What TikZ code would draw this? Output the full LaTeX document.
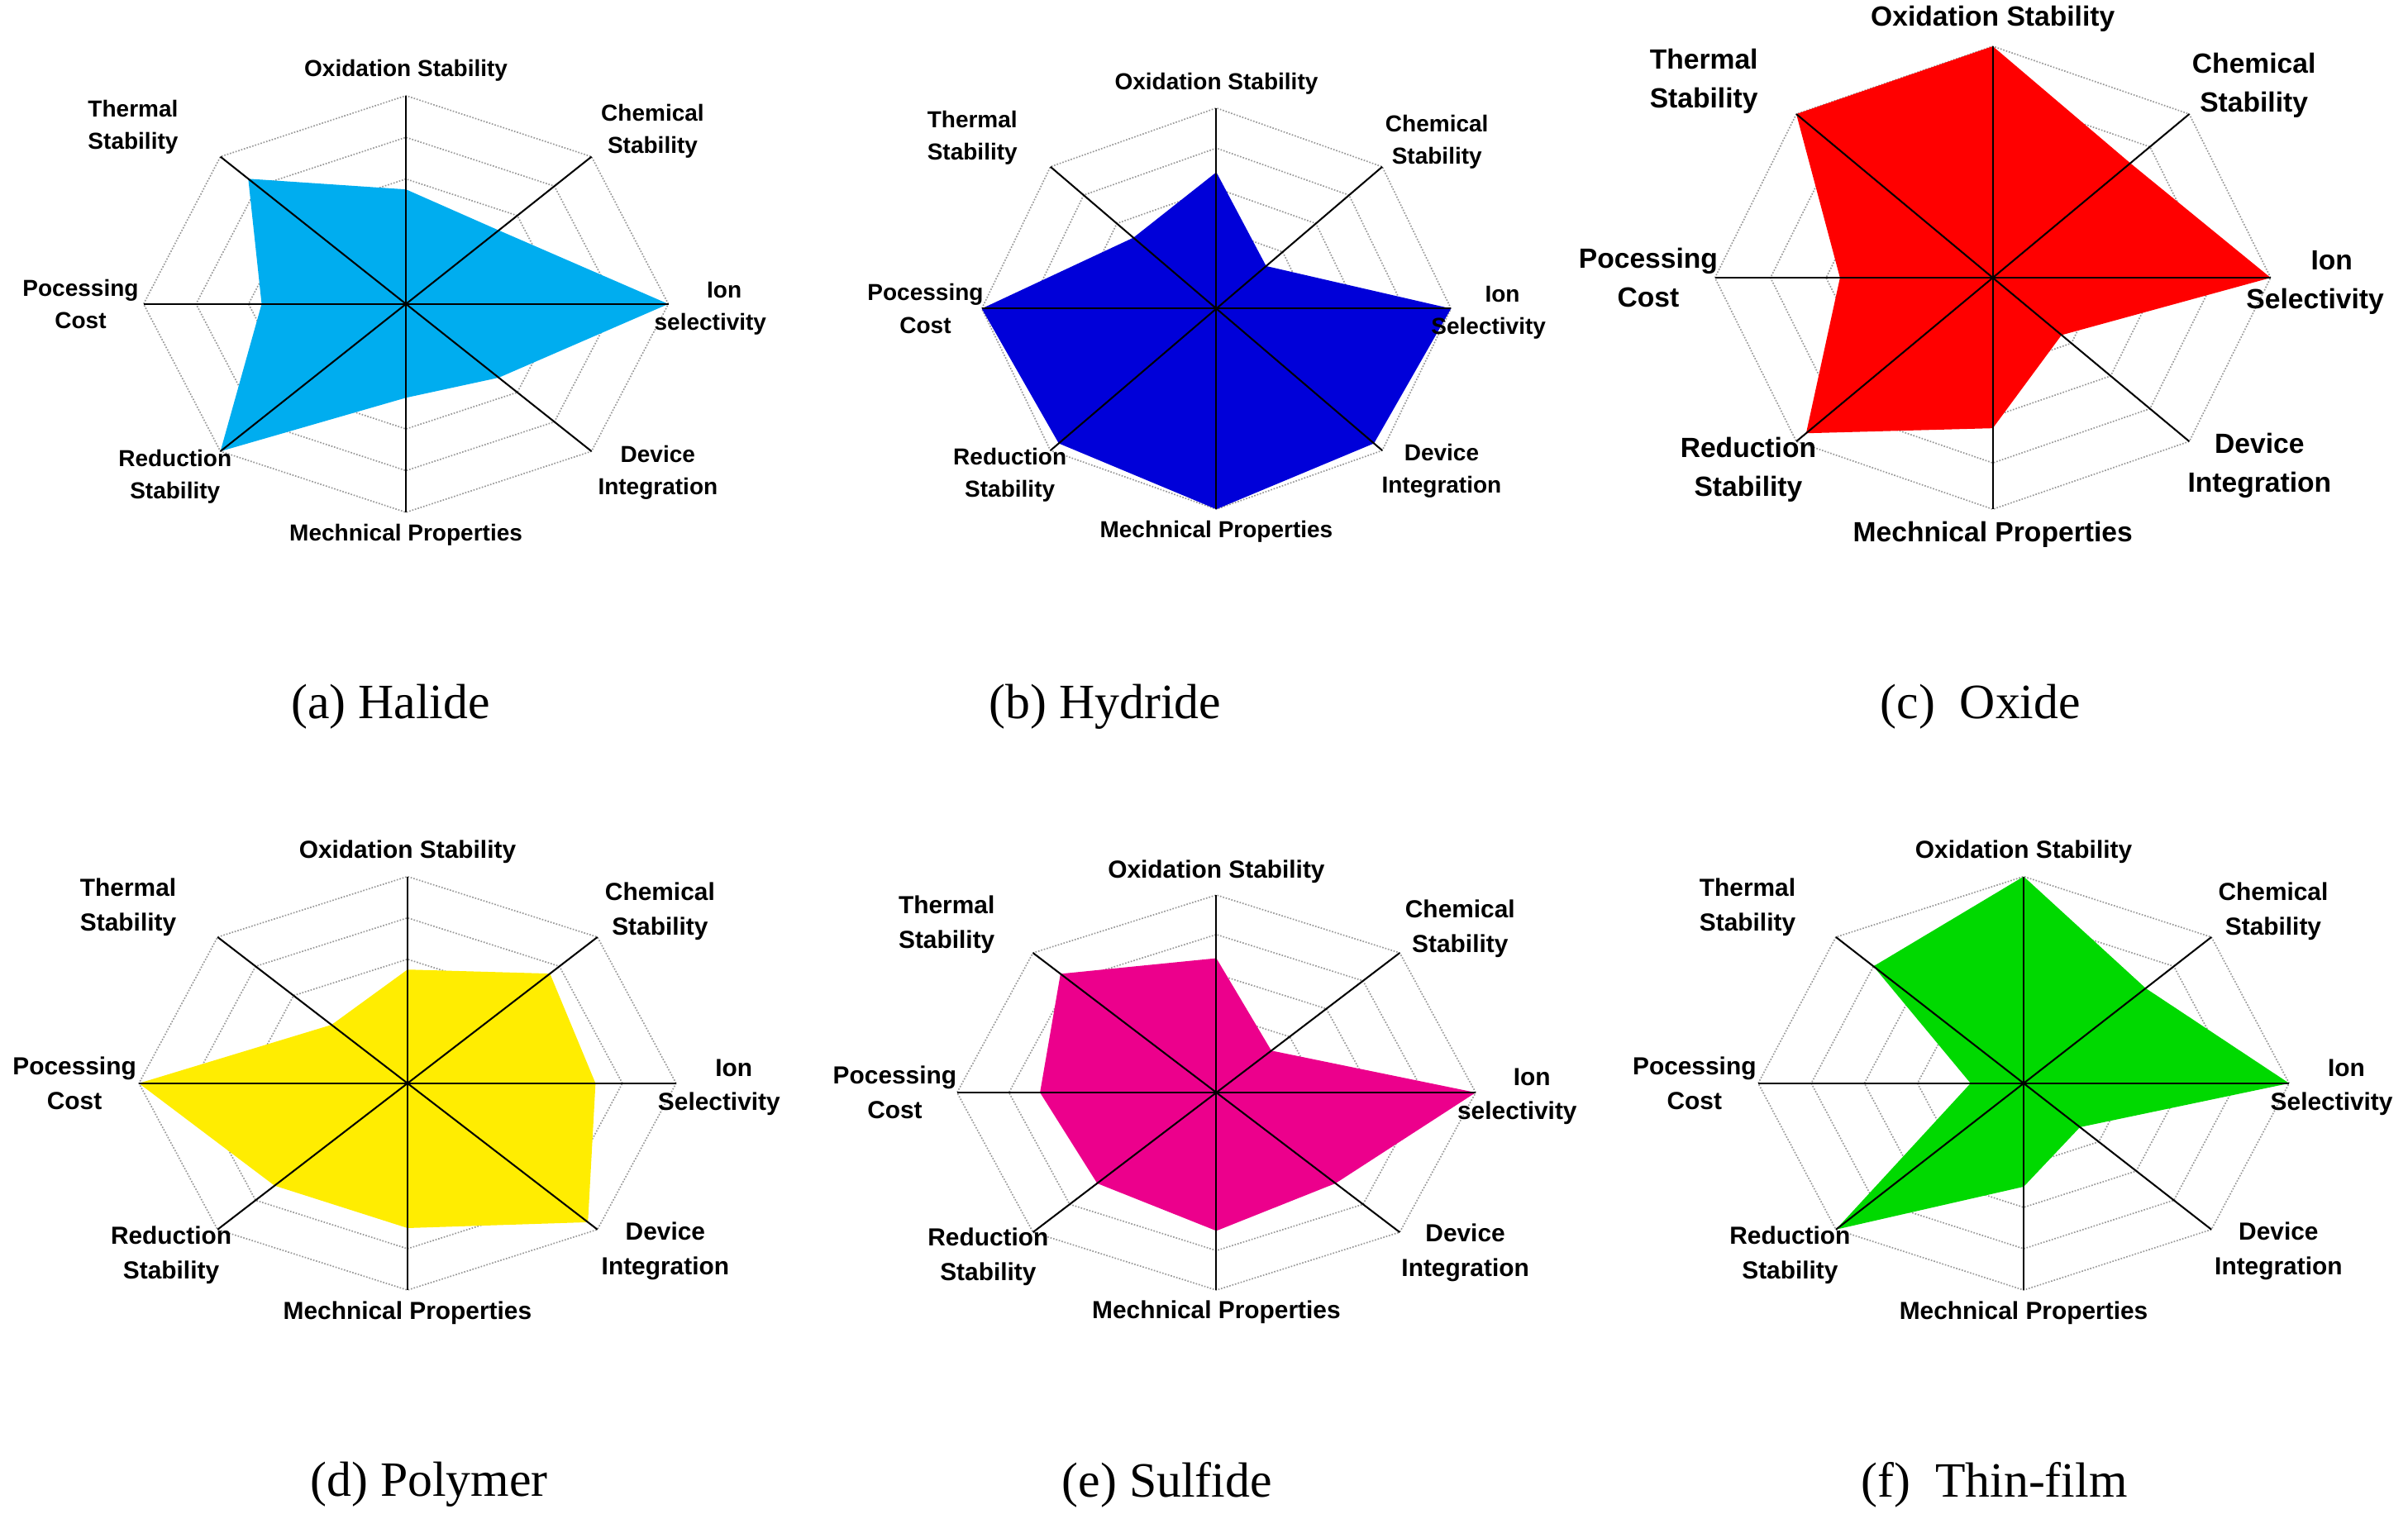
\documentclass[tikz,border=0pt]{standalone}
\usepackage{fontspec}
\setmainfont{Liberation Serif}
\newfontfamily\lab{Liberation Sans}
\begin{document}
\begin{tikzpicture}[x=1pt,y=1pt,
  ring/.style={gray!80,densely dotted,line width=0.9pt},
  axis/.style={black,line width=1.1pt},
  lbl/.style={align=center,inner sep=0pt},
  capt/.style={inner sep=0pt,font=\fontsize{32}{36}\selectfont}]
\useasboundingbox (0,0) rectangle (1560,993);
\newcommand\radar[9]{%
\begin{scope}[shift={(#2,#3)}]
 \foreach \k in {1,...,5}{\draw[ring] plot[samples at={0,45,...,315}] ({\k/5*#4*cos(\x)},{\k/5*#5*sin(\x)}) -- cycle;}
 \foreach \v [count=\i] in {#7}{\coordinate (#1p\i) at ({\v*#4*cos(90-45*(\i-1))},{\v*#5*sin(90-45*(\i-1))});}
 \fill[#6] (#1p1)--(#1p2)--(#1p3)--(#1p4)--(#1p5)--(#1p6)--(#1p7)--(#1p8)--cycle;
 \foreach \j in {0,...,7}{\draw[axis] (0,0) -- ({#4*cos(90-45*\j)},{#5*sin(90-45*\j)});}
 \begin{scope}[every node/.style={lbl,font=\lab\bfseries\fontsize{#8}{1.4\dimexpr#8pt\relax}\selectfont}]
 \node (#1ox) at (0,{1.12*#5}) {Oxidation Stability};
 \node (#1ch) at ({0.94*#4},{0.83*#5}) {Chemical\\Stability};
 \node (#1io) at ({1.16*#4},{-0.02*#5}) {\hspace*{1.2em}Ion\\#9};
 \node (#1de) at ({0.96*#4},{-0.81*#5}) {Device\\Integration};
 \node (#1me) at (0,{-1.11*#5}) {Mechnical Properties};
 \node (#1re) at ({-0.88*#4},{-0.83*#5}) {Reduction\\Stability};
 \node (#1pr) at ({-1.24*#4},0) {Pocessing\\Cost};
 \node (#1th) at ({-1.04*#4},{0.85*#5}) {Thermal\\Stability};
 \end{scope}
\end{scope}}
\radar{a}{263}{796}{170}{135}{cyan}{0.55,0.5,1.0,0.5,0.45,1.0,0.55,0.85}{15}{selectivity}
\radar{b}{788}{793}{152}{130}{blue!85!black}{0.68,0.3,1.0,0.95,1.0,0.95,1.0,0.5}{15}{Selectivity}
\radar{c}{1291}{813}{180}{150}{red}{1.0,0.7,1.0,0.35,0.65,0.95,0.55,1.0}{18}{Selectivity}
\radar{d}{264}{291}{174}{134}{yellow!95!orange}{0.55,0.75,0.7,0.95,0.7,0.7,1.0,0.4}{16}{Selectivity}
\radar{e}{788}{285}{168}{128}{magenta}{0.68,0.3,1.0,0.65,0.7,0.65,0.68,0.85}{16}{selectivity}
\radar{f}{1311}{291}{172}{134}{green!85!black}{1.0,0.65,1.0,0.3,0.5,1.0,0.2,0.8}{16}{Selectivity}
\node[capt] (ca) at (253,535) {(a) Halide};
\node[capt] (cb) at (716,535) {(b) Hydride};
\node[capt] (cc) at (1283,535) {(c)\ \ Oxide};
\node[capt] (cd) at (278,31) {(d) Polymer};
\node[capt] (ce) at (756,31) {(e) Sulfide};
\node[capt] (cf) at (1292,31) {(f)\ \ Thin-film};
\end{tikzpicture}
\end{document}
